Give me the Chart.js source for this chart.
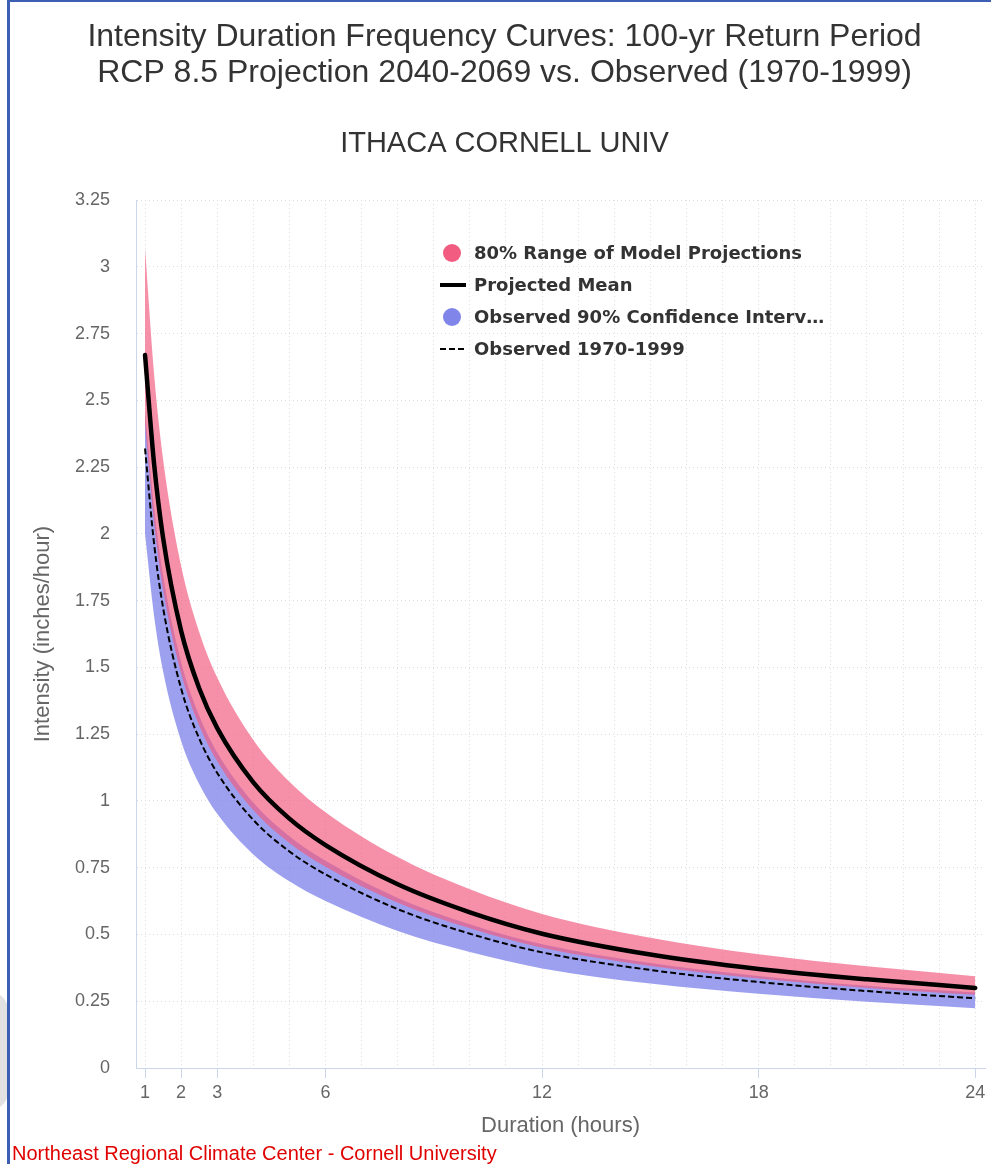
<!DOCTYPE html>
<html>
<head>
<meta charset="utf-8">
<title>IDF Curves - Ithaca Cornell Univ</title>
<script src="https://cdn.jsdelivr.net/npm/chart.js@4.4.1/dist/chart.umd.min.js"></script>
<style>
  body { margin: 0; background: #fff; }
  #wrap { position: relative; width: 991px; height: 1164px; overflow: hidden; background: #fff; }
  #frameLeft { position: absolute; left: 7px; top: 0; width: 3px; height: 1164px; background: #3d5fb3; }
  #frameTop { position: absolute; left: 7px; top: 0; width: 984px; height: 2px; background: #3d5fb3; }
  #shade { position: absolute; left: -34px; top: 992px; width: 42px; height: 118px; background: #e2e2e2; border-radius: 18px; }
  #credits { position: absolute; left: 12px; top: 1142px; font: 20px "Liberation Sans", Arial, sans-serif; color: #e00000; white-space: nowrap; }
  canvas { position: absolute; left: 0; top: 0; }
</style>
</head>
<body>
<div id="wrap">
  <canvas id="idfChart" width="991" height="1164"></canvas>
  <div id="shade"></div>
  <div id="frameLeft"></div>
  <div id="frameTop"></div>
  <div id="credits">Northeast Regional Climate Center - Cornell University</div>
</div>
<script>
// --- Datos (pulgadas/hora) ---
const durations = [1, 1.25, 1.5, 2, 2.5, 3, 4, 5, 6, 8, 10, 12, 15, 18, 21, 24];
const xTickLabels = [1, 2, 3, 6, 12, 18, 24];

// 80% rango de proyecciones del modelo (RCP 8.5, 2040-2069)
const projHigh = [3.07, 2.60, 2.28, 1.88, 1.633, 1.462, 1.228, 1.072, 0.958, 0.79, 0.669, 0.577, 0.488, 0.426, 0.381, 0.344];
const projLow  = [2.41, 2.044, 1.793, 1.478, 1.283, 1.149, 0.966, 0.843, 0.754, 0.619, 0.523, 0.45, 0.382, 0.335, 0.30, 0.274];
// media proyectada
const projMean = [2.67, 2.264, 1.986, 1.637, 1.422, 1.273, 1.07, 0.934, 0.835, 0.688, 0.583, 0.503, 0.425, 0.371, 0.332, 0.30];
// intervalo de confianza 90% observado
const obsHigh  = [2.46, 2.10, 1.845, 1.52, 1.32, 1.182, 0.994, 0.868, 0.776, 0.637, 0.538, 0.463, 0.393, 0.345, 0.308, 0.283];
const obsLow   = [2.0, 1.694, 1.486, 1.225, 1.064, 0.952, 0.80, 0.699, 0.625, 0.513, 0.434, 0.373, 0.316, 0.278, 0.248, 0.224];
// observado 1970-1999
const observed = [2.32, 1.965, 1.724, 1.421, 1.234, 1.105, 0.929, 0.811, 0.725, 0.595, 0.503, 0.433, 0.367, 0.322, 0.288, 0.261];

const legendLabels = [
  '80% Range of Model Projections',
  'Projected Mean',
  'Observed 90% Confidence Interv\u2026',
  'Observed 1970-1999'
];

const PINK = '#f15c80';
const BLUE = '#8085e9';
const FONT = '"Liberation Sans", Arial, sans-serif';
const pts = (vals) => durations.map((d, i) => ({ x: d, y: vals[i] }));

// -------------------- Leyenda dentro del area del grafico --------------------
const insideLegend = {
  id: 'insideLegend',
  afterDatasetsDraw(chart) {
    const ctx = chart.ctx;
    const x0 = 440, xText = 474, rows = [253, 285, 317, 349];
    ctx.save();
    ctx.font = 'bold 18px "DejaVu Sans", sans-serif';
    ctx.textBaseline = 'middle';
    legendLabels.forEach((lbl, i) => {
      const y = rows[i];
      if (i === 0 || i === 2) {
        ctx.beginPath();
        ctx.arc(x0 + 12, y, 9, 0, Math.PI * 2);
        ctx.fillStyle = i === 0 ? PINK : BLUE;
        ctx.fill();
      } else {
        ctx.beginPath();
        ctx.lineWidth = i === 1 ? 4 : 2;
        ctx.strokeStyle = '#000';
        ctx.setLineDash(i === 1 ? [] : [6, 3]);
        ctx.moveTo(x0, y);
        ctx.lineTo(x0 + 26, y);
        ctx.stroke();
        ctx.setLineDash([]);
      }
      ctx.fillStyle = '#333333';
      ctx.fillText(lbl, xText, y + 1);
    });
    ctx.restore();
  }
};

const noLine = { borderWidth: 0, borderColor: 'rgba(0,0,0,0)', pointRadius: 0 };

new Chart(document.getElementById('idfChart').getContext('2d'), {
  type: 'line',
  data: {
    datasets: [
      { ...noLine, label: legendLabels[0], data: pts(projHigh), fill: '+1', backgroundColor: 'rgba(241,92,128,0.68)', order: 4 },
      { ...noLine, label: 'projLow', data: pts(projLow), fill: false, order: 4 },
      { ...noLine, label: legendLabels[2], data: pts(obsHigh), fill: '+1', backgroundColor: 'rgba(128,133,233,0.78)', order: 5 },
      { ...noLine, label: 'obsLow', data: pts(obsLow), fill: false, order: 5 },
      { label: legendLabels[1], data: pts(projMean), fill: false, borderColor: '#000',
        borderWidth: 4.5, pointRadius: 0, order: 1, borderCapStyle: 'round' },
      { label: legendLabels[3], data: pts(observed), fill: false, borderColor: '#000',
        borderWidth: 2, borderDash: [6, 3], pointRadius: 0, order: 2 }
    ]
  },
  options: {
    responsive: false,
    animation: false,
    devicePixelRatio: 1,
    elements: { line: { cubicInterpolationMode: 'monotone' } },
    layout: { padding: { top: 0, right: 6, bottom: 24, left: 24 } },
    plugins: {
      legend: { display: false },
      tooltip: { enabled: false },
      title: {
        display: true,
        text: ['Intensity Duration Frequency Curves: 100-yr Return Period',
               'RCP 8.5 Projection 2040-2069 vs. Observed (1970-1999)'],
        color: '#333333',
        font: { family: FONT, size: 32, weight: 'normal', lineHeight: 1.1 },
        padding: { top: 20, bottom: 0 }
      },
      subtitle: {
        display: true,
        text: 'ITHACA CORNELL UNIV',
        color: '#333333',
        font: { family: FONT, size: 29, lineHeight: 1.2 },
        padding: { top: 36, bottom: 39 }
      }
    },
    scales: {
      x: {
        type: 'linear',
        min: 0.75,
        max: 24.27,
        afterFit: (s) => { s.height = 72; },
        afterBuildTicks: (s) => {
          const t = [];
          for (let h = 1; h <= 24; h++) t.push({ value: h });
          s.ticks = t;
        },
        ticks: {
          autoSkip: false, maxRotation: 0, padding: 4, color: '#666666',
          font: { family: FONT, size: 18 },
          callback: (v) => xTickLabels.includes(v) ? String(v) : ''
        },
        grid: {
          color: '#dcdcdc', lineWidth: 1, tickLength: 10, tickBorderDash: [],
          tickColor: (c) => (c.tick && xTickLabels.includes(c.tick.value)) ? '#ccd6eb' : 'rgba(0,0,0,0)'
        },
        border: { color: '#ccd6eb', width: 1, dash: [1, 3] },
        title: {
          display: true, text: 'Duration (hours)', color: '#666666',
          font: { family: FONT, size: 22, lineHeight: 1.2 },
          padding: { top: 0, bottom: 1 }
        }
      },
      y: {
        min: 0,
        max: 3.25,
        afterFit: (s) => { s.width = 112; },
        ticks: {
          stepSize: 0.25, padding: 26, color: '#666666',
          font: { family: FONT, size: 18 },
          callback: (v) => String(v)
        },
        grid: { color: '#dcdcdc', lineWidth: 1, drawTicks: false },
        border: { color: '#ccd6eb', width: 1, dash: [1, 3] },
        title: {
          display: true, text: 'Intensity (inches/hour)', color: '#666666',
          font: { family: FONT, size: 22, lineHeight: 1.2 },
          padding: { top: 6, bottom: 0 }
        }
      }
    }
  },
  plugins: [insideLegend]
});
</script>
</body>
</html>
